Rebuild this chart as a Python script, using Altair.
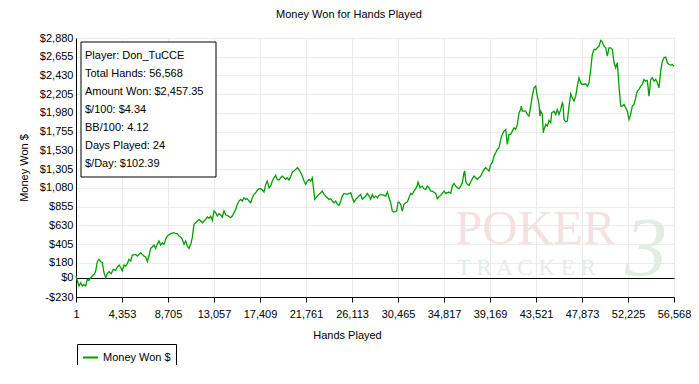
import altair as alt
import pandas as pd

# ---- data ----
hands = [1, 284, 445, 596, 757, 918, 1069, 1230, 1391, 1542, 1769, 1864, 2015, 2176, 2337, 2488,
         2649, 2810, 2961, 3122, 3339, 3528, 3756, 3907, 4068, 4229, 4380, 4541, 4702, 4853, 5014,
         5175, 5326, 5648, 5799, 5960, 6121, 6272, 6433, 6594, 6745, 6906, 7067, 7218, 7379, 7540,
         7691, 7852, 8013, 8164, 8325, 8486, 8637, 8959, 9271, 9432, 9583, 9744, 9905, 10056, 10217,
         10378, 10529, 10690, 10851, 11002, 11163, 11324, 11636, 11797, 11948, 12109, 12270, 12421,
         12582, 12743, 12894, 13055, 13216, 13367, 13528, 13689, 13840, 14001, 14162, 14313, 14634,
         14785, 14946, 15107, 15258, 15419, 15580, 15731, 15892, 16053, 16204, 16365, 16526, 16677,
         16838, 16999, 17150, 17311, 17472, 17623, 17784, 17945, 18096, 18257, 18418, 18569, 18730,
         18891, 19042, 19203, 19364, 19515, 19676, 19837, 19988, 20149, 20310, 20461, 20622, 20783,
         20934, 21095, 21256, 21407, 21568, 21729, 21880, 22041, 22202, 22353, 22514, 22580, 22826,
         23148, 23299, 23460, 23772, 23933, 24094, 24245, 24406, 24567, 24718, 24880, 25041, 25192,
         25353, 25665, 25987, 26138, 26299, 26460, 26611, 26772, 26933, 27084, 27245, 27406, 27557,
         27718, 27879, 28030, 28191, 28352, 28503, 28664, 28825, 29137, 29298, 29449, 29610, 29771,
         29922, 30083, 30338, 30461, 30555, 30716, 30867, 31028, 31189, 31340, 31501, 31662, 31813,
         31974, 32135, 32286, 32352, 32542, 32759, 32920, 33081, 33232, 33393, 33554, 33705, 34027,
         34178, 34339, 34500, 34651, 34812, 34973, 35285, 35446, 35597, 35758, 35919, 36070, 36231,
         36392, 36543, 36704, 36770, 36865, 37016, 37177, 37338, 37489, 37650, 37811, 37962, 38123,
         38284, 38435, 38596, 38757, 38908, 39069, 39230, 39381, 39542, 39703, 39854, 40015, 40176,
         40327, 40488, 40649, 40800, 40961, 41122, 41273, 41434, 41595, 41746, 41907, 42068, 42125,
         42219, 42540, 42691, 42852, 43013, 43164, 43325, 43486, 43637, 43798, 43892, 43959, 44110,
         44206, 44271, 44432, 44583, 44744, 44905, 45000, 45217, 45378, 45529, 45690, 45851, 46002,
         46068, 46163, 46324, 46475, 46636, 46797, 46948, 47109, 47270, 47421, 47582, 47743, 47894,
         48216, 48367, 48528, 48689, 48840, 49001, 49162, 49313, 49474, 49635, 49786, 49947, 50108,
         50259, 50420, 50581, 50732, 50893, 51054, 51205, 51366, 51527, 51678, 51839, 52000, 52151,
         52312, 52473, 52624, 52785, 52946, 53097, 53258, 53419, 53570, 53731, 53892, 54043, 54204,
         54365, 54516, 54677, 54838, 54989, 55150, 55311, 55462, 55623, 55784, 55935, 56096, 56257,
         56408, 56568]

money_won = [20, -98, -58, -98, -78, -98, -18, -30, 2, 22, 50, 82, 194, 222, 194, 182,
             62, 2, 50, 74, 50, 102, 90, 130, 154, 122, 82, 154, 142, 170, 222,
             202, 274, 282, 262, 282, 302, 282, 262, 250, 194, 262, 354, 370, 394, 354,
             402, 442, 394, 422, 402, 462, 502, 530, 542, 530, 530, 502, 490, 462, 402,
             442, 382, 354, 402, 482, 642, 662, 702, 682, 662, 682, 702, 730,
             714, 742, 690, 802, 782, 742, 770, 754, 730, 802, 754, 750, 722,
             742, 782, 822, 882, 922, 942, 922, 962, 942, 950, 922, 902, 962,
             1002, 1022, 1054, 1070, 1070, 1054, 1030, 1122, 1162, 1082, 1102, 1162, 1202,
             1230, 1182, 1174, 1202, 1222, 1202, 1182, 1202, 1174, 1214, 1270, 1282, 1302,
             1322, 1302, 1262, 1222, 1162, 1122, 1162, 1182, 1162, 1202, 1022, 942, 982,
             1022, 1042, 1002, 962, 942, 950, 922, 902, 922, 882, 870, 922, 982,
             1014, 1002, 1022, 962, 910, 942, 962, 982, 1002, 942, 962, 982, 1014,
             982, 942, 1002, 962, 982, 962, 990, 1002, 990, 982, 1030, 962, 902,
             802, 790, 802, 910, 910, 882, 802, 882, 902, 910, 962, 1014, 1002,
             1042, 1070, 1110, 1150, 1082, 1102, 1070, 1062, 1102, 1082, 1042, 1042, 1014,
             950, 974, 990, 1014, 1042, 1014, 1030, 1014, 1102, 1134, 1102, 1082, 1070,
             1102, 1142, 1262, 1282, 1162, 1122, 1110, 1150, 1190, 1222, 1202, 1182, 1202,
             1222, 1262, 1302, 1322, 1302, 1282, 1362, 1382, 1462, 1502, 1542, 1562, 1662,
             1722, 1762, 1782, 1602, 1722, 1722, 1762, 1802, 1782, 1842, 1982, 2022, 2062,
             2002, 2002, 1962, 1942, 2062, 2182, 2282, 2302, 2182, 2082, 1942, 2002, 1962,
             1742, 1782, 1842, 1822, 1890, 1862, 1982, 2002, 1962, 2022, 1962, 2022, 2102,
             2082, 1902, 1874, 1882, 2062, 2210, 2162, 2122, 2182, 2302, 2402, 2342, 2322,
             2330, 2302, 2342, 2502, 2682, 2742, 2742, 2762, 2782, 2850, 2834, 2782, 2762,
             2662, 2762, 2762, 2742, 2582, 2522, 2582, 2302, 2062, 2062, 2082, 2042, 2002,
             1902, 1962, 2062, 2082, 2162, 2242, 2262, 2302, 2322, 2382, 2362, 2370, 2182,
             2382, 2402, 2362, 2382, 2342, 2282, 2482, 2602, 2642, 2650, 2582, 2562, 2554,
             2562, 2542]

x_ticks = [1, 4353, 8705, 13057, 17409, 21761, 26113, 30465, 34817, 39169, 43521, 47873, 52225, 56568]
y_ticks = [-230, 0, 180, 405, 630, 855, 1080, 1305, 1530, 1755, 1980, 2205, 2430, 2655, 2880]

info_lines = ["Player: Don_TuCCE", "Total Hands: 56,568", "Amount Won: $2,457.35",
              "$/100: $4.34", "BB/100: 4.12", "Days Played: 24", "$/Day: $102.39"]
series_name = "Money Won $"
chart_title = "Money Won for Hands Played"
x_title = "Hands Played"
y_title = "Money Won $"

# ---- chart ----
FONT = "Liberation Sans"
W, H = 598, 259
GREEN = "#00a000"
GRID = "#ebebeb"

df = pd.DataFrame({"hands": hands, "money": money_won, "series": series_name})
one = pd.DataFrame({"k": [0]})
info_df = pd.DataFrame({"txt": ["\n".join(info_lines)]})

common_axis = dict(labelFont=FONT, labelFontSize=11, labelColor="black",
                   titleFont=FONT, titleFontSize=11, titleColor="black",
                   titleFontWeight="normal", domainColor="black",
                   labelOverlap=False, grid=True)

x_enc = alt.X(
    "hands:Q",
    scale=alt.Scale(domain=[1, 56568], nice=False, zero=False),
    axis=alt.Axis(values=x_ticks, labelExpr="format(datum.value, ',')",
                  title=x_title, gridColor=GRID, tickSize=5, tickColor="black",
                  labelPadding=6, labelFlush=False, titleX=271, titleY=38,
                  titleBaseline="middle", **common_axis),
)
y_enc = alt.Y(
    "money:Q",
    scale=alt.Scale(domain=[-230, 2880], nice=False, zero=False),
    axis=alt.Axis(values=y_ticks,
                  labelExpr="datum.value < 0 ? '-$' + format(-datum.value, ',') : '$' + format(datum.value, ',')",
                  title=y_title,
                  gridColor=alt.condition("datum.value === 0", alt.value("black"), alt.value(GRID)),
                  ticks=False, labelPadding=3,
                  titleX=-52, titleY=H / 2, titleAngle=-90,
                  titleBaseline="middle", titleAlign="center", **common_axis),
)

line = alt.Chart(df).mark_line(strokeWidth=1.3, interpolate="linear").encode(
    x=x_enc,
    y=y_enc,
    color=alt.Color("series:N",
                    scale=alt.Scale(domain=[series_name], range=[GREEN]),
                    legend=alt.Legend(title=None, orient="none", legendX=1, legendY=306,
                                      symbolType="stroke", symbolSize=225,
                                      symbolStrokeWidth=2, strokeColor="black",
                                      padding=5, labelFont=FONT, labelFontSize=11,
                                      labelColor="black", labelOffset=4)),
)

wm_poker = alt.Chart(one).mark_text(
    text="POKER", font="Liberation Serif", fontSize=49, align="left",
    baseline="alphabetic", color="#f3dcdc", opacity=0.85
).encode(x=alt.value(379), y=alt.value(206))
wm_tracker = alt.Chart(one).mark_text(
    text="T R A C K E R", font="Liberation Serif", fontSize=23, align="left",
    baseline="alphabetic", color="#e2e8e2", opacity=0.85
).encode(x=alt.value(381), y=alt.value(237))
wm_three = alt.Chart(one).mark_text(
    text="3", font="Liberation Serif", fontSize=84, fontStyle="italic", align="left",
    baseline="alphabetic", color="#dfeadf", opacity=0.85
).encode(x=alt.value(549), y=alt.value(238))

info_box = alt.Chart(one).mark_rect(fill="white", stroke="black", strokeWidth=1).encode(
    x=alt.value(5), x2=alt.value(140), y=alt.value(4), y2=alt.value(139))
info_text = alt.Chart(info_df).mark_text(
    align="left", baseline="top", lineBreak="\n", lineHeight=18,
    font=FONT, fontSize=11, color="black"
).encode(x=alt.value(9), y=alt.value(11.5), text="txt:N")

chart = alt.layer(
    wm_poker, wm_tracker, wm_three, line, info_box, info_text
).properties(
    width=W, height=H,
    title=alt.TitleParams(chart_title, font=FONT, fontSize=11, fontWeight="normal",
                          color="black", anchor="middle", frame="group", offset=12, dx=-26),
    autosize=alt.AutoSizeParams(type="none"),
    padding={"left": 68, "top": 30, "right": 17, "bottom": 68},
).configure_view(
    stroke="black", strokeWidth=1
).configure(background="white")

chart.save("out.html", embed_options={"renderer": "svg", "actions": False})
